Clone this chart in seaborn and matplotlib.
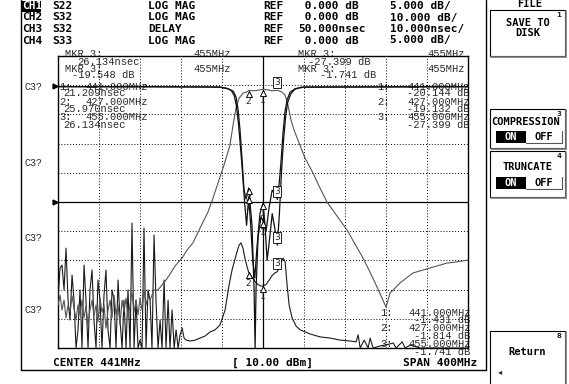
import numpy as np
import matplotlib
matplotlib.use("Agg")
import matplotlib.pyplot as plt
import seaborn as sns
import pandas as pd
from matplotlib.patches import Rectangle
from matplotlib.transforms import offset_copy

START_MHZ, STOP_MHZ = 241.0, 641.0
MKR_FREQ = [441.0, 427.0, 455.0]
MKR_LABEL = ["1", "2", "3"]

S22_MKR = [-23.3, -17.6, -19.548]
S32_MKR = [-1.431, -1.814, -1.741]
DLY_MKR = [21.209, 25.970, 26.134]
S33_MKR = [-20.144, -19.132, -27.399]

# CH3 group delay (MHz, nsec)
DELAY = [(241.0, 16.4), (243.0, 27.4), (244.9, 28.4), (246.9, 19.9), (248.8, 34.2), (250.8, 16.4),
         (252.7, 9.6), (254.7, 25.0), (256.6, 16.4), (258.6, -3), (260.5, 6.2), (262.5, 19.9),
         (264.4, -3), (266.4, 28.4), (268.3, 16.4), (270.3, -3), (272.2, 19.9), (274.2, 26.7),
         (276.1, 9.6), (278.1, -3), (280.0, 23.3), (282.0, 16.4), (283.9, -3), (285.9, 18.1),
         (287.8, 26.7), (289.8, 6.2), (291.8, -3), (293.7, 19.9), (295.7, 16.4), (297.6, -3),
         (299.6, 23.3), (301.5, 9.6), (303.5, -3), (305.4, 16.4), (307.4, -3), (309.3, 19.9),
         (311.3, -3), (313.2, 42.8), (315.2, -3), (317.1, 16.4), (319.1, -3), (321.0, 2.7),
         (323.0, -3), (324.9, 41.1), (326.9, -3), (328.8, 19.9), (330.8, 16.4), (332.7, -3),
         (334.7, 38.7), (336.6, 16.4), (338.6, -3), (340.6, 9.6), (342.5, -3), (344.5, 23.3),
         (346.4, -3), (348.4, 16.4), (350.3, -3), (352.3, 13.0), (354.3, -3), (356.2, 6.2),
         (358.2, -3), (360.1, 4.5), (362.1, 6.8), (364.0, 3.4), (366.0, 2.7), (369.8, 2.4),
         (374.7, 2.7), (379.6, 3.4), (384.5, 4.1), (389.4, 5.5), (394.2, 6.2), (399.1, 7.9),
         (404.0, 13.0), (407.9, 21.6), (410.8, 26.7), (414.7, 31.8), (417.7, 35.3), (419.6, 36.0),
         (421.6, 34.0), (423.5, 30.5), (425.5, 27.8), (427.0, 25.97), (430.3, 24.2), (433.3, 22.7),
         (436.2, 21.7), (439.1, 21.2), (441.0, 21.209), (444.0, 21.8), (446.9, 23.2), (449.9, 24.8),
         (452.8, 25.8), (455.0, 26.134), (457.7, 28.5), (460.6, 30.8), (462.6, 29.5), (464.5, 21.6),
         (466.5, 14.7), (469.4, 10.3), (473.3, 7.5), (477.2, 6.2), (487.0, 4.8), (496.7, 3.8),
         (506.5, 3.4), (516.2, 2.7), (526.0, 2.4), (531.8, 2.1), (533.8, 4.5), (535.8, -3),
         (539.7, 2.7), (543.6, -3), (545.5, 3.4), (548.4, -3), (555.3, 0.7), (565.0, 1.4),
         (568.0, 1.7), (570.9, -3), (576.8, 2.1), (579.7, -3), (584.6, 1.0), (594.3, -3),
         (641.0, -3)]

# CH2 S32 transmission (MHz, dB)
S32 = [(241.0, -75.3), (243.0, -71.9), (244.9, -77.0), (246.9, -73.6), (248.8, -79.7), (250.8, -75.3),
       (252.7, -77.7), (254.7, -72.2), (256.6, -76.3), (258.6, -80.4), (260.5, -75.3), (262.5, -78.7),
       (264.4, -73.6), (266.4, -79.7), (268.3, -75.6), (270.3, -82.1), (272.2, -77.0), (274.2, -73.6),
       (276.1, -79.0), (278.1, -75.3), (280.0, -81.1), (282.0, -72.9), (283.9, -77.7), (285.9, -75.3),
       (287.8, -83.2), (289.8, -77.0), (291.8, -73.6), (293.7, -79.7), (295.7, -71.9), (297.6, -78.7),
       (299.6, -75.3), (301.5, -82.1), (303.5, -73.6), (305.4, -77.7), (307.4, -72.9), (309.3, -79.7),
       (311.3, -75.3), (313.2, -70.8), (315.2, -77.7), (317.1, -73.6), (319.1, -78.7), (321.0, -72.9),
       (323.0, -77.0), (324.9, -70.1), (326.9, -75.3), (328.8, -72.2), (330.8, -73.6), (334.7, -70.1),
       (338.6, -70.1), (342.5, -68.4), (346.4, -66.7), (350.3, -64.7), (355.2, -61.9), (362.1, -59.2),
       (366.9, -56.4), (372.7, -54.0), (379.6, -48.9), (387.4, -43.4), (392.2, -38.7), (397.1, -33.5),
       (403.0, -27.3), (408.8, -20.5), (411.8, -13.6), (414.7, -7.8), (417.7, -4.4), (421.6, -2.7),
       (425.5, -2.3), (427.0, -1.814), (433.2, -1.9), (438.1, -1.6), (441.0, -1.431), (445.9, -1.6),
       (449.8, -1.9), (455.0, -1.741), (459.5, -2.3), (462.5, -3.4), (465.4, -6.8), (468.3, -11.9),
       (471.2, -15.3), (475.1, -18.8), (481.9, -24.9), (489.8, -30.1), (496.6, -35.2), (503.4, -40.0),
       (513.2, -44.8), (523.0, -49.6), (530.8, -54.4), (538.6, -59.2), (545.4, -64.0), (552.2, -69.1),
       (557.1, -72.9), (561.0, -76.0), (563.0, -73.6), (564.9, -71.2), (569.8, -69.5), (574.7, -67.7),
       (579.6, -66.4), (587.3, -64.3), (594.2, -63.6), (604.0, -62.6), (613.7, -61.6), (620.5, -60.9),
       (628.3, -60.6), (635.1, -60.2), (641.0, -59.9)]

# CH1 S22 reflection (MHz, dB)
S22 = [(241.0, -0.25), (330.0, -0.25), (380.0, -0.3), (399.0, -0.35), (407.0, -0.6), (411.8, -1.0),
       (414.7, -2.0), (416.7, -4.2), (418.6, -7.7), (420.6, -12.8), (422.5, -17.9), (424.5, -19.5),
       (427.0, -17.6), (430.3, -24.0), (432.3, -35.0), (433.3, -50.0), (434.2, -35.0), (436.2, -26.0),
       (439.1, -22.5), (441.0, -23.3), (444.0, -25.0), (446.9, -21.0), (449.9, -18.0), (452.8, -18.5),
       (455.0, -19.548), (456.7, -17.0), (458.6, -13.0), (460.6, -8.0), (462.5, -4.5), (464.5, -2.5),
       (467.4, -1.2), (472.3, -0.6), (482.0, -0.3), (641.0, -0.25)]

# CH4 S33 reflection (MHz, dB)
S33 = [(241.0, -0.25), (399.0, -0.3), (405.0, -0.5), (410.0, -0.9), (413.0, -1.8), (415.0, -3.5),
       (417.0, -6.5), (419.0, -10.5), (421.0, -15.0), (423.0, -20.0), (425.0, -24.0), (427.0, -19.132),
       (429.0, -24.0), (431.0, -30.0), (433.0, -33.0), (435.0, -28.0), (438.0, -22.0), (441.0, -20.144),
       (443.0, -24.0), (445.0, -30.0), (447.0, -27.0), (450.0, -22.0), (453.0, -25.0), (455.0, -27.399),
       (457.0, -22.0), (459.0, -15.0), (461.0, -9.5), (463.0, -5.5), (465.0, -3.0), (468.0, -1.5),
       (472.0, -0.7), (478.0, -0.35), (641.0, -0.25)]

HEADER = [("CH1", "S22", "LOG MAG", "REF", " 0.000 dB", "5.000 dB/"),
          ("CH2", "S32", "LOG MAG", "REF", " 0.000 dB", "10.000 dB/"),
          ("CH3", "S32", "DELAY", "REF", "50.000nsec", "10.000nsec/"),
          ("CH4", "S33", "LOG MAG", "REF", " 0.000 dB", "5.000 dB/")]

# ---------------- figure ----------------
sns.set_theme(style="white")
plt.rcParams['font.family'] = ['DejaVu Sans Mono', 'DejaVu Sans']

W, H = 569, 384
fig = plt.figure(figsize=(W / 100, H / 100), dpi=100)
fig.patch.set_facecolor('white')

ov = fig.add_axes([0, 0, 1, 1])
ov.set_xlim(0, W)
ov.set_ylim(H, 0)
ov.axis('off')

GL, GR, GT, GB = 58, 468, 56, 348
gx = fig.add_axes([GL / W, (H - GB) / H, (GR - GL) / W, (GB - GT) / H])
gx.set_facecolor('none')
gx.set_xlim(START_MHZ, STOP_MHZ)
gx.set_ylim(0, 10)
gx.set_xticks([]); gx.set_yticks([])
for s in gx.spines.values():
    s.set_color('black'); s.set_linewidth(1.0)

for i in range(1, 10):
    fx = START_MHZ + 40 * i
    if i == 5:
        gx.axvline(fx, color='black', lw=0.9, zorder=1)
        gx.axhline(i, color='black', lw=0.9, zorder=1)
    else:
        gx.axvline(fx, color='black', lw=0.7, ls=(0, (1, 2)), zorder=1)
        gx.axhline(i, color='black', lw=0.7, ls=(0, (1, 2)), zorder=1)


def to_div(vals, per, refdiv, ref):
    return np.clip(refdiv + (np.asarray(vals, float) - ref) / per, 0, 10)


def trace(pairs, per, refdiv, ref, color, lw):
    f, v = map(np.array, zip(*pairs))
    df = pd.DataFrame({"f": f, "d": to_div(v, per, refdiv, ref)})
    sns.lineplot(data=df, x="f", y="d", ax=gx, color=color, linewidth=lw,
                 estimator=None, sort=False, zorder=3)


trace(DELAY, 10, 5, 50, '#1a1a1a', 0.8)
trace(S32, 10, 9, 0, '#555555', 0.8)
trace(S22, 5, 9, 0, '#111111', 0.9)
trace(S33, 5, 9, 0, '#111111', 0.9)
gx.set_xlabel(''); gx.set_ylabel('')
gx.set_xlim(START_MHZ, STOP_MHZ); gx.set_ylim(0, 10)


def markers(vals, per, refdiv, ref):
    d = to_div(vals, per, refdiv, ref)
    for f, dv, lab in zip(MKR_FREQ, d, MKR_LABEL):
        if lab == "3":
            gx.annotate(lab, xy=(f, dv), xytext=(0, 2.5), textcoords='offset points',
                        ha='center', va='bottom', fontsize=6.5, family='DejaVu Sans', zorder=5,
                        bbox=dict(boxstyle='square,pad=0.12', fc='white', ec='black', lw=0.6))
        else:
            tr = offset_copy(gx.transData, fig=fig, x=0, y=-2.3, units='points')
            gx.plot([f], [dv], marker='^', ms=5, mfc='white', mec='black', mew=0.7,
                    transform=tr, zorder=5, clip_on=False)
            gx.annotate(lab, xy=(f, dv), xytext=(0, -4.6), textcoords='offset points',
                        ha='center', va='top', fontsize=6.5, family='DejaVu Sans', zorder=5)


markers(S32_MKR, 10, 9, 0)
markers(S22_MKR, 5, 9, 0)
markers(S33_MKR, 5, 9, 0)
markers(DLY_MKR, 10, 5, 50)

# ---------------- screen furniture ----------------
ov.plot([21, 21], [0, 370], color='black', lw=1.0)
ov.plot([21, 486], [370, 370], color='black', lw=1.0)
ov.plot([486, 486], [0, 370], color='black', lw=1.0)

BOLD = dict(family='DejaVu Sans Mono', weight='bold', size=8, color='black')
THIN = dict(family='Liberation Mono', size=7.5, color='#2a2a2a')

cols = [22, 52, 148, 263, 298, 390]
for r, row in enumerate(HEADER):
    y = 6 + r * 11.5
    for c, (x, txt) in enumerate(zip(cols, row)):
        if r == 0 and c == 0:
            ov.add_patch(Rectangle((21, y - 5.5), 20, 11, fc='black', ec='none'))
            ov.text(x, y, txt, va='center', ha='left', **{**BOLD, 'color': 'white'})
        else:
            ov.text(x, y, txt, va='center', ha='left', **BOLD)

# marker readouts
left_txt = [(65, 54, "MKR 3:"), (193, 54, "455MHz"), (77, 61.7, "26.134nsec"),
            (65, 69, "MKR 3:"), (193, 69, "455MHz"), (72, 75.5, "-19.548 dB"),
            (59, 86.7, "1:"), (85, 86.7, "441.000MHz"), (63, 93.3, "21.209nsec"),
            (59, 101.7, "2:"), (85, 101.7, "427.000MHz"), (63, 109.3, "25.970nsec"),
            (59, 117.3, "3:"), (85, 117.3, "455.000MHz"), (63, 124.5, "26.134nsec")]
right_txt = [(298, 54, "MKR 3:"), (427, 54, "455MHz"), (308, 61.7, "-27.399 dB"),
             (298, 69, "MKR 3:"), (427, 69, "455MHz"), (320, 75.5, "-1.741 dB"),
             (377, 86.7, "1:"), (407, 86.7, "441.000MHz"), (407, 93.3, "-20.144 dB"),
             (377, 101.7, "2:"), (407, 101.7, "427.000MHz"), (407, 109.3, "-19.132 dB"),
             (377, 117.3, "3:"), (407, 117.3, "455.000MHz"), (407, 124.5, "-27.399 dB")]
bottom_txt = [(380, 312.7, "1:"), (408, 312.7, "441.000MHz"), (414, 320, "-1.431 dB"),
              (380, 328, "2:"), (408, 328, "427.000MHz"), (414, 336, "-1.814 dB"),
              (380, 344, "3:"), (408, 344, "455.000MHz"), (414, 352, "-1.741 dB")]
for x, y, t in left_txt + right_txt + bottom_txt:
    ov.text(x, y, t, va='center', ha='left', zorder=6, **THIN)

for y in [87, 163, 238, 310]:
    ov.text(25, y, "C3?", va='center', ha='left', **{**THIN, 'size': 7.2})

# reference position pointers
for y in [86, 202]:
    ov.plot([55], [y], marker='>', ms=3.5, color='black', mec='black')

ov.text(53, 363, "CENTER 441MHz", va='center', ha='left', **BOLD)
ov.text(232, 363, "[ 10.00 dBm]", va='center', ha='left', **BOLD)
ov.text(403, 363, "SPAN 400MHz", va='center', ha='left', **BOLD)

# ---------------- soft keys ----------------
SK = dict(family='DejaVu Sans Mono', weight='bold', size=7.5, color='black')


def softbox(y0, y1, num):
    ov.add_patch(Rectangle((490, y0), 75, y1 - y0, fc='white', ec='black', lw=0.8))
    ov.plot([566.5, 566.5], [y0 + 1, y1 + 1], color='#777777', lw=1.2)
    ov.plot([491, 566.5], [y1 + 1, y1 + 1], color='#777777', lw=1.2)
    ov.text(559, y0 + 5, num, va='center', ha='center', fontsize=5, family='DejaVu Sans',
            weight='bold')


def onoff(y):
    ov.add_patch(Rectangle((496, y - 6), 30, 12, fc='black', ec='none'))
    ov.text(511, y, "ON", va='center', ha='center', **{**SK, 'color': 'white'})
    ov.text(544, y, "OFF", va='center', ha='center', **SK)
    ov.plot([526, 562, 562], [y + 6, y + 6, y - 6], color='#555555', lw=0.8)


ov.text(530, 4, "FILE", va='center', ha='center', **SK)
softbox(10, 56, "1")
ov.text(528, 23, "SAVE TO", va='center', ha='center', **SK)
ov.text(528, 33, "DISK", va='center', ha='center', **SK)

softbox(109, 148, "3")
ov.text(526, 122, "COMPRESSION", va='center', ha='center', **SK)
onoff(137)

softbox(151, 197, "4")
ov.text(528, 167, "TRUNCATE", va='center', ha='center', **SK)
onoff(183)

softbox(331, 386, "8")
ov.text(527, 352, "Return", va='center', ha='center', **SK)
ov.text(500, 372, "\u25c2", va='center', ha='center', fontsize=6, family='DejaVu Sans')

fig.savefig("out.png", dpi=100, facecolor='white')
